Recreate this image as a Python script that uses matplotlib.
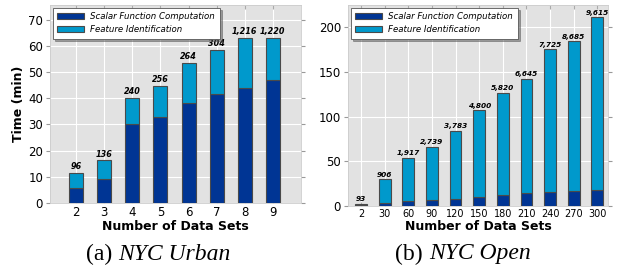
import matplotlib
matplotlib.use('Agg')
import matplotlib.pyplot as plt
import numpy as np

# NYC Urban
urban_sets = ['2', '3', '4', '5', '6', '7', '8', '9']
urban_scalar = [5.9, 9.1, 30.0, 32.9, 38.3, 41.7, 44.0, 46.8]
urban_total = [11.5, 16.3, 40.1, 44.7, 53.5, 58.6, 63.1, 63.1]
urban_counts = ['96', '136', '240', '256', '264', '304', '1,216', '1,220']

# NYC Open
open_sets = ['2', '30', '60', '90', '120', '150', '180', '210', '240', '270', '300']
open_scalar = [1.2, 3.4, 5.6, 6.7, 7.8, 10.0, 12.3, 14.2, 15.7, 16.8, 17.9]
open_total = [2.2, 29.9, 53.7, 66.0, 84.0, 107.0, 126.5, 142.0, 175.4, 184.3, 211.2]
open_counts = ['93', '906', '1,917', '2,739', '3,783', '4,800', '5,820',
               '6,645', '7,725', '8,685', '9,615']

dark = '#003594'
light = '#0099cc'
W, H = 623, 269

fig = plt.figure(figsize=(W / 100, H / 100), dpi=100)
ax1 = fig.add_axes([50 / W, 1 - 203 / H, 251 / W, 198 / H])
ax2 = fig.add_axes([348 / W, 1 - 206 / H, 260 / W, 201 / H])


def draw(ax, sets, scalar, total, counts, ylim, xlim, xfs, yfs, afs):
    x = np.arange(len(sets))
    feat = np.array(total) - np.array(scalar)
    ax.set_facecolor('#e2e2e2')
    ax.set_axisbelow(True)
    ax.grid(True, color='white', linewidth=0.8)
    ax.bar(x, scalar, 0.5, color=dark, edgecolor='#4a4a4a', linewidth=0.8,
           label='Scalar Function Computation')
    ax.bar(x, feat, 0.5, bottom=scalar, color=light, edgecolor='#4a4a4a',
           linewidth=0.8, label='Feature Identification')
    for xi, t, c in zip(x, total, counts):
        ax.annotate(c, (xi, t), xytext=(0, 1.2), textcoords='offset points',
                    ha='center', va='bottom', fontsize=afs, fontweight='bold',
                    fontstyle='italic')
    ax.set_xticks(x)
    ax.set_xticklabels(sets, fontsize=xfs)
    ax.tick_params(axis='x', direction='in', top=True, length=3,
                   color='#aaaaaa', pad=2)
    ax.tick_params(axis='y', direction='out', right=True, length=3,
                   color='#999999', pad=2, labelsize=yfs)
    for s in ax.spines.values():
        s.set_color('#cccccc')
        s.set_linewidth(0.6)
    ax.set_xlim(*xlim)
    ax.set_ylim(*ylim)
    ax.set_xlabel('Number of Data Sets', fontsize=9, fontweight='bold',
                  labelpad=1)
    leg = ax.legend(loc='upper left', prop={'style': 'italic', 'size': 6.2},
                    handlelength=3.1, handleheight=0.7, fancybox=False,
                    shadow=True, borderaxespad=0.3, labelspacing=0.5,
                    borderpad=0.5, framealpha=1, edgecolor='#555555')
    leg.get_frame().set_linewidth(0.6)


draw(ax1, urban_sets, urban_scalar, urban_total, urban_counts,
     (0, 75.6), (-0.93, 8.0), 8.5, 8.5, 5.8)
ax1.set_yticks(range(0, 71, 10))
ax1.set_ylabel('Time (min)', fontsize=9, fontweight='bold', labelpad=2)

draw(ax2, open_sets, open_scalar, open_total, open_counts,
     (0, 225), (-0.55, 10.45), 7, 8.5, 5.3)
ax2.set_yticks(range(0, 201, 50))

cap_y = 1 - 254 / H
fig.text(112 / W, cap_y, '(a)', ha='right', va='center',
         family='Liberation Serif', fontsize=17)
fig.text(118 / W, cap_y, 'NYC Urban', ha='left', va='center',
         family='Liberation Serif', fontstyle='italic', fontsize=17)
fig.text(423 / W, cap_y, '(b)', ha='right', va='center',
         family='Liberation Serif', fontsize=17)
fig.text(429 / W, cap_y, 'NYC Open', ha='left', va='center',
         family='Liberation Serif', fontstyle='italic', fontsize=17)

fig.savefig('out.png', dpi=100)
